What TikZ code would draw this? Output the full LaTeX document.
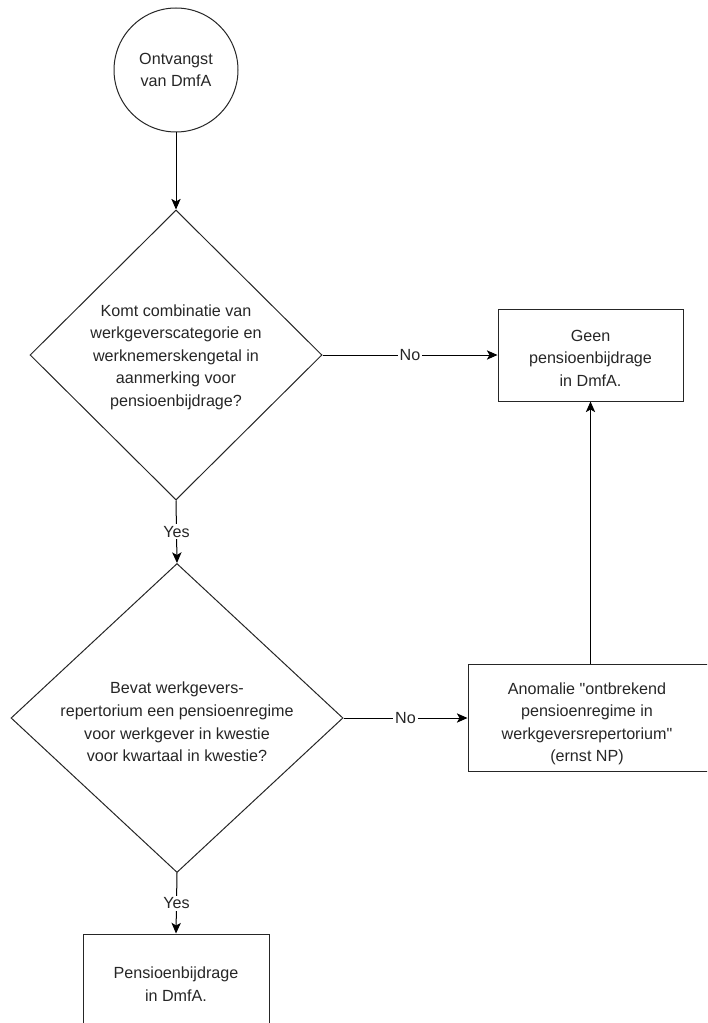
\documentclass[tikz,border=0pt]{standalone}
\usepackage{fontspec}
\setmainfont{Liberation Sans}[Ligatures=TeXOff]
\usetikzlibrary{shapes.geometric,arrows.meta}
\begin{document}
\begin{tikzpicture}[x=0.75pt,y=-0.75pt,
  every node/.style={font=\fontsize{12.1pt}{16.9pt}\selectfont, text=black!85},
  shape line/.style={draw=black!85, line width=0.75pt},
  dia/.style={shape line, diamond, inner sep=0pt, aspect=1},
  boxn/.style={shape line, rectangle, inner sep=0pt},
  circ/.style={shape line, circle, inner sep=0pt, minimum size=93pt, align=center},
  txt/.style={align=center, inner sep=0pt},
  conn/.style={draw=black, line width=0.75pt, -{Stealth[length=8pt,width=7pt,inset=2pt]}},
  lbl/.style={fill=white, inner sep=1.5pt}
]
\useasboundingbox (0,0) rectangle (707,1023);
\clip (0,0) rectangle (707,1023);

\node[circ] (start) at (176,70) {Ontvangst\\van DmfA};

\node[dia, minimum width=219pt, minimum height=217.5pt] (d1) at (176,355) {};
\node[txt] (d1t) at (176,357) {Komt combinatie van\\werkgeverscategorie en\\werknemerskengetal in\\aanmerking voor\\pensioenbijdrage?};

\node[boxn, minimum width=138.75pt, minimum height=69pt] (geen) at (590.5,355) {};
\node[txt] (geent) at (590.5,358) {Geen\\pensioenbijdrage\\in DmfA.};

\node[dia, minimum width=249pt, minimum height=231.75pt] (d2) at (177,718) {};
\node[txt] (d2t) at (177,722) {Bevat werkgevers-\\repertorium een pensioenregime\\voor werkgever in kwestie\\voor kwartaal in kwestie?};

\node[boxn, minimum width=183pt, minimum height=80.25pt] (anom) at (590,718) {};
\node[txt] (anomt) at (587,724) {Anomalie "ontbrekend\\pensioenregime in\\werkgeversrepertorium"\\(ernst NP)};

\node[boxn, minimum width=139.5pt, minimum height=72pt] (pens) at (176,982) {};
\node[txt] (penst) at (176,984) {Pensioenbijdrage\\in DmfA.};

\draw[conn] (start.south) -- (d1.north);
\draw[conn] (d1.east) -- node[lbl] (l1) {No} (geen.west);
\draw[conn] (d1.south) -- node[lbl] (l2) {Yes} (d2.north);
\draw[conn] (d2.east) -- node[lbl] (l3) {No} (anom.west);
\draw[conn] (d2.south) -- node[lbl] (l4) {Yes} (pens.north);
\draw[conn] (anom.north -| geen.south) -- (geen.south);
\end{tikzpicture}
\end{document}
